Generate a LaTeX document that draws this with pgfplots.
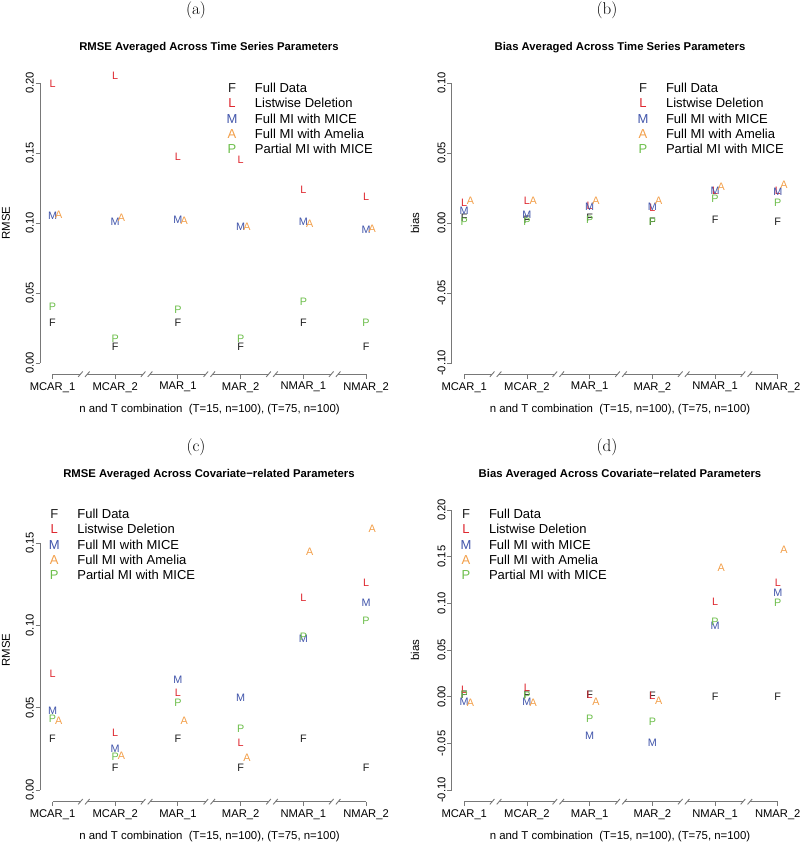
\documentclass[border=0pt]{standalone}
\usepackage{pgfplots}
\pgfplotsset{compat=1.18}
\usepackage{fontspec}
\newfontfamily\rf{Liberation Sans}

\definecolor{colF}{RGB}{30,30,30}
\definecolor{colL}{RGB}{222,38,46}
\definecolor{colM}{RGB}{64,84,170}
\definecolor{colA}{RGB}{242,158,72}
\definecolor{colP}{RGB}{108,190,74}
\definecolor{axgray}{RGB}{120,120,120}

\newcommand\tickfont{\rf\fontsize{11.2}{13}\selectfont}
\newcommand\labfont{\rf\fontsize{11.4}{13}\selectfont}
\newcommand\titfont{\rf\bfseries\fontsize{11.3}{13}\selectfont}
\newcommand\legfont{\rf\fontsize{13}{15}\selectfont}
\newcommand\mkfont{\rf\fontsize{10.8}{12}\selectfont}

% broken x axis line (R style), #1 = ymin of the panel
\newcommand\xbrk[1]{%
  \draw[axln] (axis cs:1,#1) -- (axis cs:1.445,#1) (axis cs:1.555,#1) -- (axis cs:2.445,#1)
    (axis cs:2.555,#1) -- (axis cs:3.445,#1) (axis cs:3.555,#1) -- (axis cs:4.445,#1)
    (axis cs:4.555,#1) -- (axis cs:5.445,#1) (axis cs:5.555,#1) -- (axis cs:6,#1);
  \draw[axln] (axis cs:1.445,#1) ++(-2.3pt,-2.7pt) -- ++(4.6pt,5.4pt)
    (axis cs:1.555,#1) ++(-2.3pt,-2.7pt) -- ++(4.6pt,5.4pt)
    (axis cs:2.445,#1) ++(-2.3pt,-2.7pt) -- ++(4.6pt,5.4pt)
    (axis cs:2.555,#1) ++(-2.3pt,-2.7pt) -- ++(4.6pt,5.4pt)
    (axis cs:3.445,#1) ++(-2.3pt,-2.7pt) -- ++(4.6pt,5.4pt)
    (axis cs:3.555,#1) ++(-2.3pt,-2.7pt) -- ++(4.6pt,5.4pt)
    (axis cs:4.445,#1) ++(-2.3pt,-2.7pt) -- ++(4.6pt,5.4pt)
    (axis cs:4.555,#1) ++(-2.3pt,-2.7pt) -- ++(4.6pt,5.4pt)
    (axis cs:5.445,#1) ++(-2.3pt,-2.7pt) -- ++(4.6pt,5.4pt)
    (axis cs:5.555,#1) ++(-2.3pt,-2.7pt) -- ++(4.6pt,5.4pt);
}

\tikzset{axln/.style={axgray, line width=0.9pt}}

\pgfplotsset{
  rpanel/.style={
    scale only axis, width=338.6pt,
    xmin=0.8, xmax=6.2,
    axis x line*=bottom, axis y line*=left,
    axis line style={draw=none},
    tick align=outside, major tick length=4.5pt,
    tick style={axgray, line width=0.9pt},
    xtick={1,2,3,4,5,6},
    xticklabels={MCAR\_1,MCAR\_2,MAR\_1,MAR\_2,NMAR\_1,NMAR\_2},
    ticklabel style={font=\tickfont},
    /pgf/number format/assume math mode=true,
    yticklabel style={rotate=90, anchor=south, inner sep=1.5pt,
      /pgf/number format/.cd, fixed, fixed zerofill, precision=2},
    clip=false,
    legend cell align=left,
    legend style={draw=none, fill=none, inner sep=0pt, outer sep=0pt,
      font=\legfont, row sep=5.95pt, anchor=north west,
      nodes={inner sep=0pt, text height=9.3pt, text depth=0pt},
      /tikz/every odd column/.append style={column sep=17.6pt}},
  },
  ser/.style 2 args={only marks, mark=text, text mark={#2}, text mark as node=true,
    text mark style={font=\mkfont, text=#1, inner sep=0pt, anchor=center},
    legend image code/.code={\node[font=\legfont, text=#1, inner sep=0pt,
      text height=9.3pt, text depth=0pt, anchor=center] at (0,0) {#2};}},
}

\begin{document}
\begin{tikzpicture}
\useasboundingbox (0,0) rectangle (800pt,843pt);

% ---------------- (a) RMSE, time series parameters
\begin{axis}[rpanel, at={(40pt,468.8pt)}, anchor=south west, height=302.4pt,
  ymin=-0.008, ymax=0.208, ytick={0,0.05,0.1,0.15,0.2},
  legend style={at={(0.551,0.9616)}}]
\addplot[ser={colF}{F}] coordinates {(1,0.0286) (2,0.0119) (3,0.0286) (4,0.0119) (5,0.0286) (6,0.0119)};
\addplot[ser={colL}{L}] coordinates {(1,0.1995) (2,0.205) (3,0.147) (4,0.145) (5,0.124) (6,0.1186)};
\addplot[ser={colM}{M}] coordinates {(1,0.105) (2,0.101) (3,0.102) (4,0.097) (5,0.101) (6,0.0952)};
\addplot[ser={colA}{A}] coordinates {(1.1,0.106) (2.1,0.1036) (3.1,0.1017) (4.1,0.0976) (5.1,0.0993) (6.1,0.0957)};
\addplot[ser={colP}{P}] coordinates {(1,0.040) (2,0.0174) (3,0.038) (4,0.0174) (5,0.044) (6,0.0286)};
\legend{Full Data, Listwise Deletion, Full MI with MICE, Full MI with Amelia, Partial MI with MICE}
\draw[axln] (axis cs:0.8,0) -- (axis cs:0.8,0.2);
\xbrk{-0.008}
\end{axis}

% ---------------- (b) bias, time series parameters
\begin{axis}[rpanel, at={(451.7pt,468.8pt)}, anchor=south west, height=302.4pt,
  ymin=-0.108, ymax=0.108, ytick={-0.1,-0.05,0,0.05,0.1},
  legend style={at={(0.549,0.9616)}}]
\addplot[ser={colF}{F}] coordinates {(1,0.004) (2,0.002) (3,0.0036) (4,0.001) (5,0.002) (6,0.0007)};
\addplot[ser={colL}{L}] coordinates {(1,0.0143) (2,0.016) (3,0.012) (4,0.011) (5,0.023) (6,0.023)};
\addplot[ser={colM}{M}] coordinates {(1,0.009) (2,0.006) (3,0.0114) (4,0.0114) (5,0.0233) (6,0.0226)};
\addplot[ser={colA}{A}] coordinates {(1.1,0.016) (2.1,0.016) (3.1,0.016) (4.1,0.016) (5.1,0.0257) (6.1,0.0274)};
\addplot[ser={colP}{P}] coordinates {(1,0.0012) (2,0.0007) (3,0.002) (4,0.0007) (5,0.0171) (6,0.0143)};
\legend{Full Data, Listwise Deletion, Full MI with MICE, Full MI with Amelia, Partial MI with MICE}
\draw[axln] (axis cs:0.8,-0.1) -- (axis cs:0.8,0.1);
\xbrk{-0.108}
\end{axis}

% ---------------- (c) RMSE, covariate-related parameters
\begin{axis}[rpanel, at={(40pt,41.3pt)}, anchor=south west, height=316.3pt,
  ymin=-0.0071, ymax=0.185, ytick={0,0.05,0.1,0.15},
  legend style={at={(0.0263,0.9245)}}]
\addplot[ser={colF}{F}] coordinates {(1,0.031) (2,0.0136) (3,0.031) (4,0.0136) (5,0.031) (6,0.0136)};
\addplot[ser={colL}{L}] coordinates {(1,0.0705) (2,0.035) (3,0.0588) (4,0.0284) (5,0.117) (6,0.126)};
\addplot[ser={colM}{M}] coordinates {(1,0.048) (2,0.0253) (3,0.0669) (4,0.0562) (5,0.0918) (6,0.1135)};
\addplot[ser={colA}{A}] coordinates {(1.1,0.042) (2.1,0.0207) (3.1,0.042) (4.1,0.0193) (5.1,0.1445) (6.1,0.1587)};
\addplot[ser={colP}{P}] coordinates {(1,0.043) (2,0.0199) (3,0.0531) (4,0.0371) (5,0.0928) (6,0.1028)};
\legend{Full Data, Listwise Deletion, Full MI with MICE, Full MI with Amelia, Partial MI with MICE}
\draw[axln] (axis cs:0.8,0) -- (axis cs:0.8,0.15);
\xbrk{-0.0071}
\end{axis}

% ---------------- (d) bias, covariate-related parameters
\begin{axis}[rpanel, at={(451.7pt,41.3pt)}, anchor=south west, height=303.4pt,
  ymin=-0.1125, ymax=0.2125, ytick={-0.1,-0.05,0,0.05,0.1,0.15,0.2},
  legend style={at={(0.0263,0.9638)}}]
\addplot[ser={colF}{F}] coordinates {(1,0.002) (2,0.002) (3,0.0018) (4,0.0007) (5,0) (6,0)};
\addplot[ser={colL}{L}] coordinates {(1,0.0072) (2,0.009) (3,0.0025) (4,0.0007) (5,0.1014) (6,0.122)};
\addplot[ser={colM}{M}] coordinates {(1,-0.0053) (2,-0.0053) (3,-0.0421) (4,-0.0489) (5,0.076) (6,0.111)};
\addplot[ser={colA}{A}] coordinates {(1.1,-0.0064) (2.1,-0.0064) (3.1,-0.0053) (4.1,-0.0043) (5.1,0.1386) (6.1,0.157)};
\addplot[ser={colP}{P}] coordinates {(1,0.0018) (2,0.001) (3,-0.0239) (4,-0.0268) (5,0.080) (6,0.1007)};
\legend{Full Data, Listwise Deletion, Full MI with MICE, Full MI with Amelia, Partial MI with MICE}
\draw[axln] (axis cs:0.8,-0.1) -- (axis cs:0.8,0.2);
\xbrk{-0.1125}
\end{axis}

% titles, panel letters, axis labels
\node[font=\fontsize{17}{20}\selectfont] at (196pt,833pt) {(a)};
\node[font=\fontsize{17}{20}\selectfont] at (607pt,833pt) {(b)};
\node[font=\fontsize{17}{20}\selectfont] at (196pt,396pt) {(c)};
\node[font=\fontsize{17}{20}\selectfont] at (607pt,396pt) {(d)};
\node[font=\titfont] at (209pt,795pt) {RMSE Averaged Across Time Series Parameters};
\node[font=\titfont] at (620pt,795pt) {Bias Averaged Across Time Series Parameters};
\node[font=\titfont] at (209pt,368pt) {RMSE Averaged Across Covariate{\char"2212}related Parameters};
\node[font=\titfont] at (620pt,368pt) {Bias Averaged Across Covariate{\char"2212}related Parameters};
\node[font=\labfont] at (209.5pt,433pt) {n and T combination\ \ (T=15, n=100), (T=75, n=100)};
\node[font=\labfont] at (620pt,433pt) {n and T combination\ \ (T=15, n=100), (T=75, n=100)};
\node[font=\labfont] at (209.5pt,6.3pt) {n and T combination\ \ (T=15, n=100), (T=75, n=100)};
\node[font=\labfont] at (620pt,6.3pt) {n and T combination\ \ (T=15, n=100), (T=75, n=100)};
\node[font=\labfont, rotate=90] at (6pt,620pt) {RMSE};
\node[font=\labfont, rotate=90] at (415pt,620pt) {bias};
\node[font=\labfont, rotate=90] at (6pt,193pt) {RMSE};
\node[font=\labfont, rotate=90] at (415pt,193pt) {bias};
\end{tikzpicture}
\end{document}
